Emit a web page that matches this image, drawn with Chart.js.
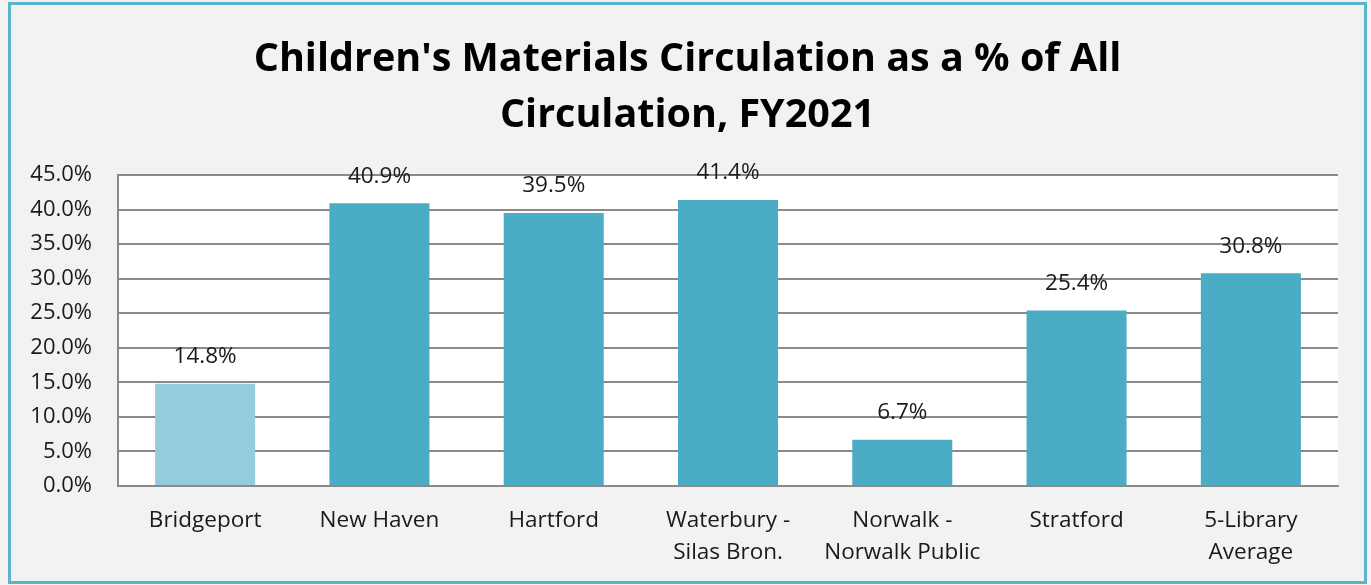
<!DOCTYPE html>
<html>
<head>
<meta charset="utf-8">
<script src="https://cdn.jsdelivr.net/npm/chart.js@4/dist/chart.umd.min.js"></script>
<style>
  html, body { margin: 0; padding: 0; background: #fff; }
  #wrap { width: 1371px; height: 585px; }
</style>
</head>
<body>
<div id="wrap"><canvas id="myChart"></canvas></div>
<script>
const libraries = [
    'Bridgeport',
    'New Haven',
    'Hartford',
    ['Waterbury -', 'Silas Bron.'],
    ['Norwalk -', 'Norwalk Public'],
    'Stratford',
    ['5-Library', 'Average']
];
const childrenPct = [14.8, 40.9, 39.5, 41.4, 6.7, 25.4, 30.8];
const barColors = ['#93cddd', '#4bacc6', '#4bacc6', '#4bacc6', '#4bacc6', '#4bacc6', '#4bacc6'];
const titleLines = ["Children's Materials Circulation as a % of All", 'Circulation, FY2021'];

const FONT = "'Open Sans', 'Noto Sans', sans-serif";

const frame = {
    id: 'frame',
    beforeDraw: (chart) => {
        const ctx = chart.ctx;
        const area = chart.chartArea;
        ctx.save();
        ctx.fillStyle = '#f2f2f2';
        ctx.fillRect(0, 0, chart.width, chart.height);
        // outer border
        ctx.strokeStyle = '#5ab4cb';
        ctx.lineWidth = 3;
        ctx.strokeRect(9.5, 3.5, 1356, 579);
        // white plot area
        ctx.fillStyle = '#ffffff';
        ctx.fillRect(area.left, area.top, area.right - area.left, area.bottom - area.top);
        // title, centred on the frame rather than on the plot
        ctx.fillStyle = '#000';
        ctx.font = "bold 39.5px " + FONT;
        ctx.textAlign = 'center';
        ctx.textBaseline = 'middle';
        titleLines.forEach((line, i) => {
            ctx.fillText(line, 687.5, 60 + i * 56);
        });
        ctx.restore();
    }
};

const valueLabels = {
    id: 'valueLabels',
    afterDatasetsDraw: (chart) => {
        const ctx = chart.ctx;
        const meta = chart.getDatasetMeta(0);
        ctx.save();
        ctx.font = "22.5px " + FONT;
        ctx.fillStyle = '#1a1a1a';
        ctx.textAlign = 'center';
        ctx.textBaseline = 'middle';
        meta.data.forEach((bar, i) => {
            ctx.fillText(childrenPct[i].toFixed(1) + '%', bar.x, bar.y - 27);
        });
        ctx.restore();
    }
};

new Chart(document.getElementById('myChart'), {
    type: 'bar',
    data: {
        labels: libraries,
        datasets: [{
            data: childrenPct,
            backgroundColor: barColors,
            borderWidth: 0,
            barPercentage: 1,
            categoryPercentage: 0.574
        }]
    },
    options: {
        responsive: true,
        maintainAspectRatio: false,
        animation: false,
        devicePixelRatio: 1,
        layout: { padding: { left: 0, right: 33, top: 175, bottom: 0 } },
        plugins: {
            legend: { display: false },
            tooltip: { enabled: false },
            title: { display: false }
        },
        scales: {
            x: {
                grid: { display: false },
                border: { display: true, color: '#8a8a8a', width: 2 },
                ticks: {
                    color: '#1a1a1a',
                    font: { family: FONT, size: 22.5, lineHeight: 1.4 },
                    padding: 11,
                    maxRotation: 0,
                    autoSkip: false
                },
                afterFit: (scale) => { scale.height = 99; }
            },
            y: {
                min: 0,
                max: 45,
                grid: { color: '#8a8a8a', lineWidth: 2, drawTicks: false },
                border: { display: true, color: '#8a8a8a', width: 2 },
                ticks: {
                    stepSize: 5,
                    color: '#1a1a1a',
                    font: { family: FONT, size: 22 },
                    padding: 26,
                    callback: (v) => v.toFixed(1) + '%'
                },
                afterFit: (scale) => { scale.width = 118; }
            }
        }
    },
    plugins: [frame, valueLabels]
});
</script>
</body>
</html>
